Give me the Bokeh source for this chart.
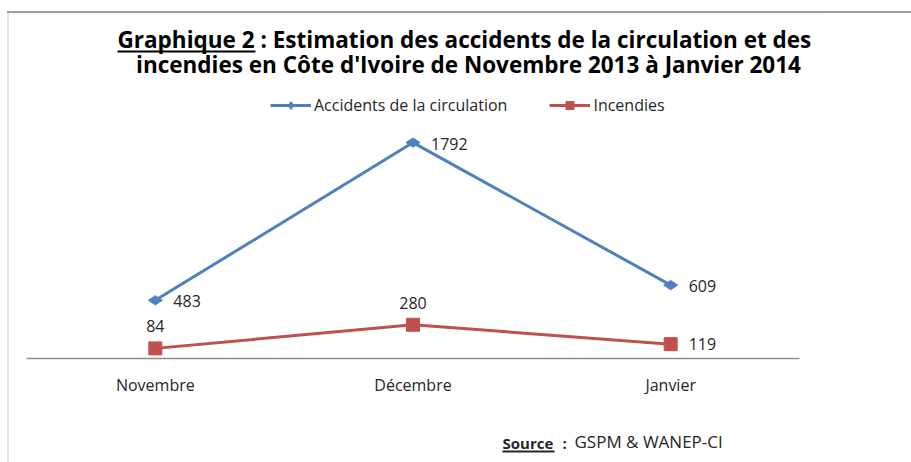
from bokeh.plotting import figure
from bokeh.core.properties import value
from bokeh.models import (ColumnDataSource, LabelSet, Label, Legend, LegendItem,
                          BoxAnnotation, FactorRange, Range1d)
from bokeh.transform import dodge
from bokeh.embed import file_html
from bokeh.resources import INLINE

# ---- data ----
months = ["Novembre", "Décembre", "Janvier"]
accidents = [483, 1792, 609]
incendies = [84, 280, 119]
series_names = ["Accidents de la circulation", "Incendies"]
title_lines = ["Graphique 2", ": Estimation des accidents de la circulation et des",
               "incendies en Côte d'Ivoire de Novembre 2013 à Janvier 2014"]
source_parts = ["Source", ":", "GSPM  & WANEP-CI"]
y_max = 2000

BLUE = "#4F81BD"
RED = "#C0504D"
TXT = "#262626"
FONT = "Open Sans"
BORDER = "#A0A0A0"

# ---- layout (pixels inside the figure) ----
W, H = 911, 462
plot_left, plot_right = 26, 799       # category band area
plot_top, plot_bottom = 117, 358      # y_max ... 0
band = (plot_right - plot_left) / len(months)
pad = plot_left / band
frame_w = plot_right + plot_left
ppu = (plot_bottom - plot_top) / y_max

p = figure(x_range=FactorRange(*months, range_padding=pad, range_padding_units="absolute"),
           y_range=Range1d(-(H - plot_bottom) / ppu, y_max + plot_top / ppu),
           width=W, height=H, output_backend="svg", toolbar_location=None,
           x_axis_location=None, y_axis_location=None,
           min_border_left=0, min_border_right=W - frame_w, min_border_top=0, min_border_bottom=0)
p.outline_line_color = None
p.xgrid.visible = False
p.ygrid.visible = False
# transparent canvas so the chart-area top border (CSS) can run to the right edge
p.background_fill_alpha = 0
p.border_fill_alpha = 0
p.styles = {"background": f"linear-gradient({BORDER},{BORDER}) 7px 11px / 100% 2px no-repeat, white"}

# chart-area border
p.add_layout(BoxAnnotation(left=7.5, right=3000, top=12, bottom=3000,
                           left_units="canvas", right_units="canvas",
                           top_units="canvas", bottom_units="canvas",
                           fill_alpha=0, line_color=BORDER, line_width=2))

# category axis: line along y=0 across the category bands, labels below
ends = ColumnDataSource(dict(first=[months[0]], last=[months[-1]]))
p.segment(x0=dodge("first", -0.5, range=p.x_range), x1=dodge("last", 0.5, range=p.x_range),
          y0=0, y1=0, source=ends, line_color="#8C8C8C", line_width=1.5)

src = ColumnDataSource(dict(m=months, a=accidents, i=incendies,
                            al=[str(v) for v in accidents],
                            il=[str(v) for v in incendies]))
p.add_layout(LabelSet(x="m", y=0, text="m", source=src, y_offset=-15,
                      text_align="center", text_baseline="top",
                      text_font=value(FONT), text_font_size=value("16px"),
                      text_color=TXT))

# incendies labels: first two above the marker, last one to the right
src_i_above = ColumnDataSource(dict(m=months[:2], i=incendies[:2],
                                    il=[str(v) for v in incendies[:2]]))
src_i_right = ColumnDataSource(dict(m=months[2:], i=incendies[2:],
                                    il=[str(v) for v in incendies[2:]]))

l1 = p.line("m", "a", source=src, line_color=BLUE, line_width=3)
s1 = p.scatter("m", "a", source=src, marker="diamond", angle=1.5708, size=14,
               color=BLUE)
l2 = p.line("m", "i", source=src, line_color=RED, line_width=3)
s2 = p.scatter("m", "i", source=src, marker="square", size=13, color=RED)

lab_style = dict(text_font=value(FONT), text_font_size=value("16px"), text_color=TXT)
p.add_layout(LabelSet(x="m", y="a", text="al", source=src, x_offset=18, y_offset=-1,
                      text_baseline="middle", **lab_style))
p.add_layout(LabelSet(x="m", y="i", text="il", source=src_i_above, y_offset=16,
                      text_align="center", text_baseline="bottom", **lab_style))
p.add_layout(LabelSet(x="m", y="i", text="il", source=src_i_right, x_offset=18,
                      text_baseline="middle", **lab_style))

legend = Legend(items=[LegendItem(label=series_names[0], renderers=[l1, s1]),
                       LegendItem(label=series_names[1], renderers=[l2, s2])],
                location=(270, H - 116), orientation="horizontal",
                glyph_width=41, glyph_height=20, label_standoff=3, spacing=42,
                padding=0, margin=0, border_line_color=None,
                background_fill_alpha=0,
                label_text_font=FONT, label_text_font_size="16px",
                label_text_color=TXT)
p.add_layout(legend, "center")

# title
TS = 22.5
tstyle = dict(x_units="canvas", y_units="canvas", text_font=FONT,
              text_font_size=f"{TS}px", text_font_style="bold", text_color="black",
              text_baseline="alphabetic")
p.add_layout(Label(x=117, y=48 - 0.4 * TS, text=title_lines[0], text_align="left", **tstyle))
p.add_layout(Label(x=260, y=48 - 0.4 * TS, text=title_lines[1], text_align="left", **tstyle))
p.add_layout(Label(x=468, y=73 - 0.4 * TS, text=title_lines[2], text_align="center", **tstyle))
p.add_layout(BoxAnnotation(left=117, right=255, top=50, bottom=52,
                           left_units="canvas", right_units="canvas",
                           top_units="canvas", bottom_units="canvas",
                           fill_color="black", fill_alpha=1, line_color=None))

# source
sstyle = dict(x_units="canvas", y_units="canvas", text_font=FONT,
              text_color=TXT, text_baseline="alphabetic")
p.add_layout(Label(x=502, y=448 - 6, text=source_parts[0], text_font_style="bold",
                   text_font_size="15px", **sstyle))
p.add_layout(Label(x=562, y=448 - 6, text=source_parts[1], text_font_style="bold",
                   text_font_size="15px", **sstyle))
p.add_layout(Label(x=574, y=448 - 6.8, text=source_parts[2], text_font_size="17px", **sstyle))
p.add_layout(BoxAnnotation(left=502, right=554, top=450, bottom=452,
                           left_units="canvas", right_units="canvas",
                           top_units="canvas", bottom_units="canvas",
                           fill_color=TXT, fill_alpha=1, line_color=None))

open("out.html", "w").write(file_html(p, INLINE))
